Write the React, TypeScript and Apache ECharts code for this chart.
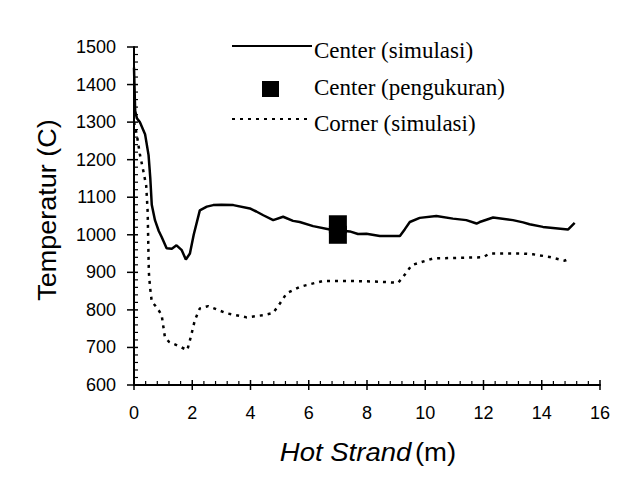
import React, { useEffect, useRef } from "react";
import * as echarts from "echarts";

// Center (simulasi): hot strand position (m) and temperature (C)
const centerSimX = [0, 0.04, 0.1, 0.2, 0.38, 0.5, 0.56, 0.61, 0.72, 0.85, 0.95, 1.12, 1.3, 1.46, 1.64, 1.78, 1.92, 2.05, 2.26, 2.5, 2.72, 3.0, 3.41, 3.98, 4.2, 4.44, 4.78, 5.12, 5.46, 5.69, 6.15, 6.72, 7.41, 7.69, 7.98, 8.44, 9.13, 9.3, 9.47, 9.81, 10.38, 10.95, 11.41, 11.76, 11.87, 12.33, 13.01, 13.36, 13.58, 14.04, 14.9, 15.13];
const centerSimT = [1445, 1330, 1310, 1300, 1268, 1212, 1150, 1080, 1039, 1010, 994, 964, 963, 972, 959, 934, 950, 1000, 1065, 1075, 1079, 1080, 1079, 1070, 1062, 1052, 1039, 1048, 1037, 1034, 1023, 1014, 1009, 1002, 1003, 997, 997, 1015, 1034, 1045, 1050, 1043, 1039, 1030, 1034, 1046, 1039, 1033, 1028, 1021, 1014, 1032];

// Corner (simulasi)
const cornerSimX = [0, 0.1, 0.2, 0.32, 0.42, 0.47, 0.49, 0.51, 0.55, 0.61, 0.8, 0.95, 1.06, 1.2, 1.46, 1.83, 1.95, 2.09, 2.26, 2.55, 3.18, 3.87, 4.44, 4.78, 5.01, 5.24, 5.69, 5.92, 6.49, 7.52, 8.44, 9.07, 9.33, 9.53, 10.27, 11.98, 12.21, 13.36, 13.7, 14.27, 14.79, 14.96];
const cornerSimT = [1300, 1265, 1215, 1170, 1130, 1060, 977, 900, 861, 822, 805, 786, 728, 715, 706, 693, 728, 773, 804, 810, 791, 780, 786, 792, 817, 844, 861, 866, 877, 877, 875, 872, 897, 919, 937, 940, 950, 950, 948, 941, 931, 937];

// Center (pengukuran): measured points
const measuredX = [7, 7];
const measuredT = [1000, 1028];

// Axis ticks
const xTicks = [0, 2, 4, 6, 8, 10, 12, 14, 16];
const yTicks = [600, 700, 800, 900, 1000, 1100, 1200, 1300, 1400, 1500];
const MINOR_PER_MAJOR = 5;

const legendLabels = ["Center (simulasi)", "Center (pengukuran)", "Corner (simulasi)"];

const zip = (xs: number[], ys: number[]) => xs.map((x, i) => [x, ys[i]]);

const GRID = { left: 134, top: 47, width: 466, height: 338 };
const SANS = "'Liberation Sans', Arial, sans-serif";
const SERIF = "'Liberation Serif', 'Times New Roman', serif";

// tick marks: [axis (0 = x, 1 = y), value, major (1) / minor (0)]
function buildTickData() {
  const out: number[][] = [];
  const add = (axis: number, ticks: number[]) => {
    ticks.forEach((v, i) => {
      out.push([axis, v, 1]);
      if (i < ticks.length - 1) {
        const step = (ticks[i + 1] - v) / MINOR_PER_MAJOR;
        for (let k = 1; k < MINOR_PER_MAJOR; k++) out.push([axis, v + step * k, 0]);
      }
    });
  };
  add(0, xTicks);
  add(1, yTicks);
  return out;
}

export default function App() {
  const ref = useRef<HTMLDivElement>(null);

  useEffect(() => {
    if (!ref.current) return;
    const chart = echarts.init(ref.current, undefined, { renderer: "svg" });

    const plain = (v: number) => String(v);
    const xMin = xTicks[0];
    const yMin = yTicks[0];

    chart.setOption({
      animation: false,
      backgroundColor: "#fff",
      grid: { ...GRID },
      xAxis: {
        type: "value",
        min: xMin,
        max: xTicks[xTicks.length - 1],
        interval: 2,
        axisLine: { show: true, onZero: false, lineStyle: { color: "#000", width: 2 } },
        axisTick: { show: false },
        axisLabel: { color: "#000", fontFamily: SANS, fontSize: 18, margin: 19, formatter: plain },
        splitLine: { show: false },
      },
      yAxis: {
        type: "value",
        min: yMin,
        max: yTicks[yTicks.length - 1],
        interval: 100,
        axisLine: { show: true, onZero: false, lineStyle: { color: "#000", width: 2 } },
        axisTick: { show: false },
        axisLabel: { color: "#000", fontFamily: SANS, fontSize: 18, margin: 18, formatter: plain },
        splitLine: { show: false },
      },
      series: [
        {
          name: legendLabels[0],
          type: "line",
          data: zip(centerSimX, centerSimT),
          showSymbol: false,
          lineStyle: { color: "#000", width: 2.5 },
          z: 3,
        },
        {
          name: legendLabels[2],
          type: "line",
          data: zip(cornerSimX, cornerSimT),
          showSymbol: false,
          lineStyle: { color: "#000", width: 2.5, type: [3, 5] },
          z: 3,
        },
        {
          name: legendLabels[1],
          type: "scatter",
          data: zip(measuredX, measuredT),
          symbol: "rect",
          symbolSize: 18,
          itemStyle: { color: "#000", opacity: 1 },
          z: 4,
        },
        {
          // crossing major ticks and inner minor ticks on both axes
          type: "custom",
          silent: true,
          clip: false,
          z: 5,
          data: buildTickData(),
          renderItem: (_params: any, api: any) => {
            const axis = api.value(0);
            const v = api.value(1);
            const major = api.value(2) === 1;
            if (axis === 0) {
              const [px, py] = api.coord([v, yMin]);
              return {
                type: "line",
                shape: major ? { x1: px, y1: py - 5, x2: px, y2: py + 5 } : { x1: px, y1: py - 4, x2: px, y2: py },
                style: { stroke: "#000", lineWidth: major ? 1.5 : 1.2 },
              };
            }
            const [px, py] = api.coord([xMin, v]);
            return {
              type: "line",
              shape: major ? { x1: px - 7, y1: py, x2: px + 4, y2: py } : { x1: px, y1: py, x2: px + 4, y2: py },
              style: { stroke: "#000", lineWidth: major ? 1.5 : 1.2 },
            };
          },
        },
      ],
      graphic: [
        // legend
        { type: "line", shape: { x1: 232, y1: 46, x2: 312, y2: 46 }, style: { stroke: "#000", lineWidth: 2 } },
        { type: "rect", shape: { x: 262, y: 81, width: 17, height: 16 }, style: { fill: "#000" } },
        { type: "line", shape: { x1: 232, y1: 119, x2: 312, y2: 119 }, style: { stroke: "#000", lineWidth: 2, lineDash: [3, 5] } },
        ...legendLabels.map((t, i) => ({
          type: "text",
          x: 314,
          y: [50, 87, 123][i],
          style: { text: t, font: `23px ${SERIF}`, fill: "#000", textAlign: "left", textVerticalAlign: "middle" },
        })),
        // axis titles
        {
          type: "text",
          x: 47,
          y: 210,
          rotation: Math.PI / 2,
          scaleX: 1.08,
          style: { text: "Temperatur (C)", font: `25px ${SANS}`, fill: "#000", textAlign: "center", textVerticalAlign: "middle" },
        },
        {
          type: "text",
          x: 368,
          y: 452,
          scaleX: 1.1,
          style: {
            text: "{i|Hot Strand} {n|(m)}",
            fill: "#000",
            textAlign: "center",
            textVerticalAlign: "middle",
            rich: {
              i: { fontFamily: SANS, fontSize: 25, fontStyle: "italic", fill: "#000" },
              n: { fontFamily: SANS, fontSize: 25, fill: "#000" },
            },
          },
        },
      ],
    });

    return () => chart.dispose();
  }, []);

  return (
    <div
      ref={ref}
      style={{ position: "fixed", left: 0, top: 0, width: 644, height: 503, background: "#fff" }}
    />
  );
}
